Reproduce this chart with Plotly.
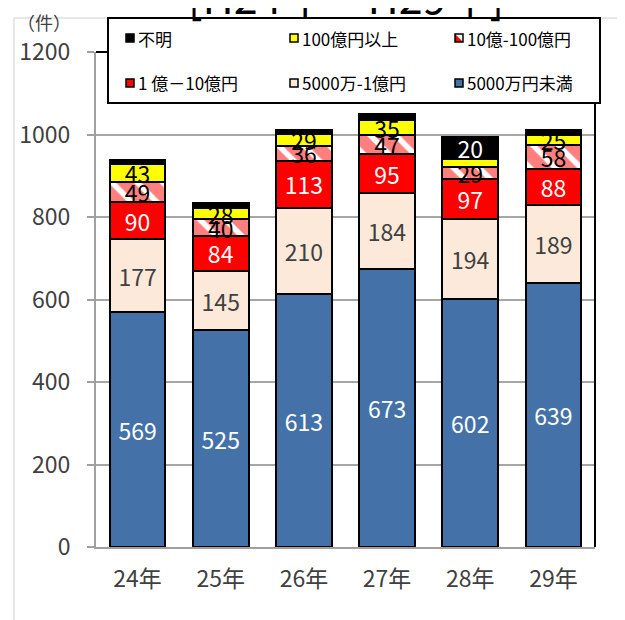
import plotly.graph_objects as go

years = ["24年", "25年", "26年", "27年", "28年", "29年"]
under_50m = [569, 525, 613, 673, 602, 639]          # 5000万円未満
m50_to_100m = [177, 145, 210, 184, 194, 189]        # 5000万-1億円
b1_to_10b = [90, 84, 113, 95, 97, 88]               # 1億－10億円
b10_to_100b = [49, 40, 36, 47, 29, 58]              # 10億-100億円
over_100b = [43, 28, 29, 35, 19, 25]                # 100億円以上
unknown = [10, 11, 10, 15, 52, 12]                  # 不明
over_100b_labels = ["43", "28", "29", "35", "", "25"]
unknown_labels = ["", "", "", "", "20", ""]

FONT = "Noto Sans CJK JP"
OFF = 8  # page body margin
W, H = 625 - OFF, 620 - OFF
L, R, T, B = 96, 595, 52, 547  # plot area in page pixels


def px_x(p):
    return (p - L) / (R - L)


def px_y(p):
    return (B - p) / (B - T)


fig = go.Figure()
line = dict(color="black", width=2)
lab = 23

series = [
    ("5000万円未満", under_50m, "#4472A8", None, "white", None),
    ("5000万-1億円", m50_to_100m, "#FDE9D9", None, "#404040", None),
    ("1 億－10億円", b1_to_10b, "#FF0000", None, "white", None),
    ("10億-100億円", b10_to_100b, "white",
     dict(shape="\\", fgcolor="#FF0000", bgcolor="white", size=18, solidity=0.7), "black", None),
    ("100億円以上", over_100b, "#FFFF00", None, "black", over_100b_labels),
    ("不明", unknown, "#000000", None, "white", unknown_labels),
]

for name, vals, color, pattern, tcolor, labels in series:
    marker = dict(color=color, line=line)
    if pattern:
        marker["pattern"] = pattern
    fig.add_trace(go.Bar(
        x=years, y=vals, name=name, marker=marker,
        text=labels if labels is not None else [str(v) for v in vals],
        textposition="inside", insidetextanchor="middle", textangle=0,
        textfont=dict(family=FONT, size=lab, color=tcolor),
        constraintext="none", cliponaxis=False, showlegend=False,
    ))

shapes = []
annotations = []
frame = dict(color="#D0D0D0", width=1)
shapes.append(dict(type="line", xref="paper", yref="paper", x0=px_x(14), x1=px_x(14),
                   y0=px_y(18), y1=px_y(640), line=frame))
shapes.append(dict(type="line", xref="paper", yref="paper", x0=px_x(14), x1=px_x(640),
                   y0=px_y(18), y1=px_y(18), line=frame))
shapes.append(dict(type="line", xref="paper", yref="paper", x0=px_x(622), x1=px_x(622),
                   y0=px_y(18), y1=px_y(640), line=frame))
# plot area black border top & right
shapes.append(dict(type="line", xref="paper", yref="paper", x0=0, x1=1, y0=1, y1=1,
                   line=dict(color="black", width=2)))
shapes.append(dict(type="line", xref="paper", yref="paper", x0=1, x1=1, y0=0, y1=1,
                   line=dict(color="black", width=2)))
# legend box
shapes.append(dict(type="rect", xref="paper", yref="paper", x0=px_x(108), x1=px_x(600),
                   y0=px_y(103), y1=px_y(18), line=dict(color="black", width=2),
                   fillcolor="white"))

legend_items = [
    ("不明", "#000000", 126, 38),
    ("100億円以上", "#FFFF00", 290, 38),
    ("10億-100億円", "hatch", 455, 38),
    ("1 億－10億円", "#FF0000", 126, 83),
    ("5000万-1億円", "#FDE9D9", 290, 83),
    ("5000万円未満", "#4472A8", 455, 83),
]
s = 8
for text, col, x0, yc in legend_items:
    xa, xb = px_x(x0), px_x(x0 + s)
    ya, yb = px_y(yc + s / 2), px_y(yc - s / 2)
    if col == "hatch":
        shapes.append(dict(type="rect", xref="paper", yref="paper", x0=xa, x1=xb,
                           y0=ya, y1=yb, line=dict(width=0), fillcolor="white"))
        shapes.append(dict(type="path", xref="paper", yref="paper",
                           path=f"M{xa},{ya} L{xa},{yb} L{xb},{ya} Z",
                           line=dict(width=0), fillcolor="#FF0000"))
        shapes.append(dict(type="rect", xref="paper", yref="paper", x0=xa, x1=xb,
                           y0=ya, y1=yb, line=dict(color="black", width=1.5)))
    else:
        shapes.append(dict(type="rect", xref="paper", yref="paper", x0=xa, x1=xb,
                           y0=ya, y1=yb, line=dict(color="black", width=1.5), fillcolor=col))
    annotations.append(dict(text=text, xref="paper", yref="paper", x=px_x(x0 + s + 2),
                            y=px_y(yc), xanchor="left", yanchor="middle", showarrow=False,
                            font=dict(family=FONT, size=17, color="black")))

annotations.append(dict(text="[H24年～H29年]", xref="paper", yref="paper", x=px_x(346),
                        y=px_y(-5), xanchor="center", yanchor="middle", showarrow=False,
                        font=dict(family=FONT, size=43, color="black")))
annotations.append(dict(text="（件）", xref="paper", yref="paper", x=px_x(44),
                        y=px_y(22), xanchor="center", yanchor="middle", showarrow=False,
                        font=dict(family=FONT, size=18, color="#404040")))

fig.update_layout(
    barmode="stack", bargap=0.33,
    width=W, height=H,
    margin=dict(l=L - OFF, r=W - (R - OFF), t=T - OFF, b=H - (B - OFF), pad=0),
    paper_bgcolor="white", plot_bgcolor="white",
    shapes=shapes, annotations=annotations,
    uniformtext=dict(minsize=lab, mode="show"),
    showlegend=False,
)
fig.update_yaxes(range=[0, 1200], dtick=200, showgrid=True, gridcolor="#A6A6A6", gridwidth=1.5,
                 showline=True, linecolor="#A0A0A0", linewidth=2, ticks="outside", ticklen=7,
                 tickcolor="#A0A0A0", tickwidth=2, ticklabelstandoff=12,
                 tickfont=dict(family=FONT, size=23, color="#404040"), zeroline=False)
fig.update_xaxes(showline=True, linecolor="#A0A0A0", linewidth=2, ticks="",
                 ticklabelstandoff=10,
                 tickfont=dict(family=FONT, size=23, color="#404040"))

fig.write_html("out.html")
